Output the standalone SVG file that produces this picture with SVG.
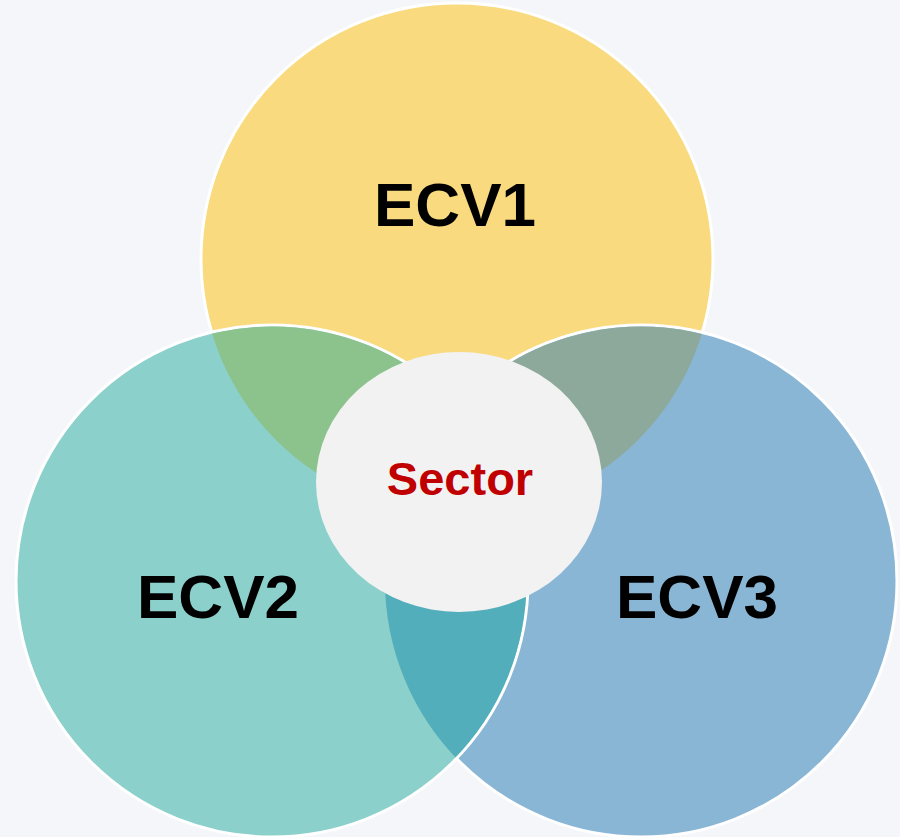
<svg xmlns="http://www.w3.org/2000/svg" width="900" height="837" viewBox="0 0 900 837">
  <defs>
    <!-- inner clip areas, slightly smaller than each circle so the white rim stays visible -->
    <clipPath id="in-ecv2"><circle cx="272" cy="581" r="254.5"/></clipPath>
    <clipPath id="in-ecv3"><circle cx="641" cy="581" r="254.5"/></clipPath>
  </defs>
  <style>
    .ring { stroke: #ffffff; stroke-width: 3; }
    .big { font-family: "Liberation Sans", Arial, sans-serif; font-weight: bold; font-size: 62px; fill: #000000; text-anchor: middle; }
    .hub { font-family: "Liberation Sans", Arial, sans-serif; font-weight: bold; font-size: 47px; fill: #C00000; text-anchor: middle; }
  </style>
  <rect x="0" y="0" width="900" height="837" fill="#F4F6F9"/>

  <g id="ecv1">
    <circle class="ring" cx="457" cy="259" r="256" fill="#F9DA7E"/>
  </g>

  <g id="ecv3">
    <circle class="ring" cx="641" cy="581" r="256" fill="#8AB6D6"/>
    <!-- ECV1 ∩ ECV3 -->
    <circle cx="457" cy="259" r="256" fill="#8CA99B" clip-path="url(#in-ecv3)"/>
  </g>

  <g id="ecv2">
    <circle class="ring" cx="272" cy="581" r="256" fill="#8BD0CB"/>
    <!-- ECV1 ∩ ECV2 -->
    <circle cx="457" cy="259" r="256" fill="#8CC28C" clip-path="url(#in-ecv2)"/>
    <!-- ECV2 ∩ ECV3 -->
    <circle cx="641" cy="581" r="256" fill="#53AEBB" clip-path="url(#in-ecv2)"/>
  </g>

  <g id="sector">
    <ellipse cx="459" cy="482" rx="143" ry="130" fill="#F2F2F2"/>
    <text class="hub" x="460" y="495">Sector</text>
  </g>

  <g id="labels">
    <text class="big" x="455" y="226">ECV1</text>
    <text class="big" x="218" y="618">ECV2</text>
    <text class="big" x="697" y="618">ECV3</text>
  </g>

  <g id="connectors"/>
</svg>
